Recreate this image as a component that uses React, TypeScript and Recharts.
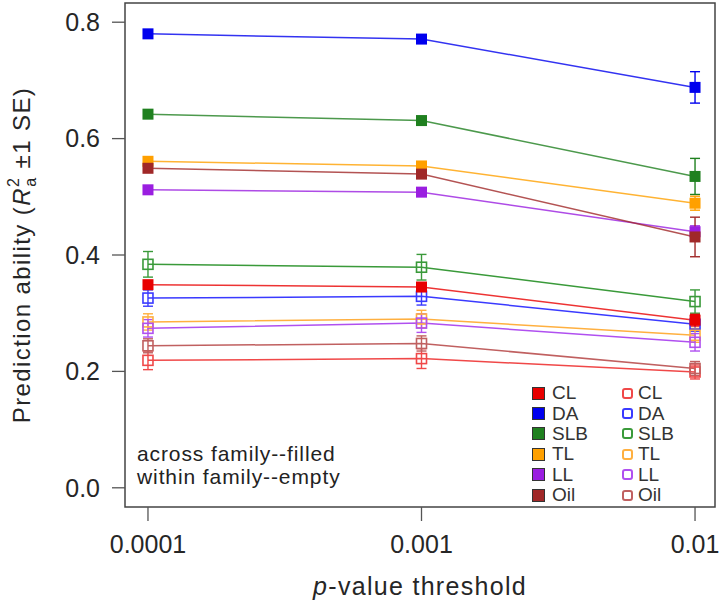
import React from "react";
import {
  LineChart,
  Line,
  XAxis,
  YAxis,
  ErrorBar,
  ReferenceArea,
  Label,
} from "recharts";

const thresholds = ["0.0001", "0.001", "0.01"];
const traits = ["CL", "DA", "SLB", "TL", "LL", "Oil"];

// across family (filled)
const acrossCL = [0.349, 0.345, 0.288];
const acrossDA = [0.78, 0.771, 0.688];
const acrossSLB = [0.642, 0.631, 0.535];
const acrossTL = [0.561, 0.553, 0.489];
const acrossLL = [0.512, 0.508, 0.44];
const acrossOil = [0.549, 0.539, 0.431];

const acrossCLse = [0.006, 0.007, 0.01];
const acrossDAse = [0.004, 0.005, 0.027];
const acrossSLBse = [0.004, 0.004, 0.031];
const acrossTLse = [0.005, 0.005, 0.012];
const acrossLLse = [0.005, 0.005, 0.01];
const acrossOilse = [0.005, 0.006, 0.034];

// within family (empty)
const withinCL = [0.219, 0.222, 0.199];
const withinDA = [0.326, 0.329, 0.281];
const withinSLB = [0.384, 0.379, 0.32];
const withinTL = [0.285, 0.29, 0.262];
const withinLL = [0.274, 0.283, 0.25];
const withinOil = [0.244, 0.248, 0.205];

const withinCLse = [0.016, 0.017, 0.012];
const withinDAse = [0.014, 0.015, 0.012];
const withinSLBse = [0.022, 0.022, 0.02];
const withinTLse = [0.014, 0.015, 0.012];
const withinLLse = [0.015, 0.016, 0.015];
const withinOilse = [0.012, 0.013, 0.012];

const yTicks = [0, 0.2, 0.4, 0.6, 0.8];

const filledColors = ["#e80000", "#0000ee", "#1f801f", "#ffa000", "#9a1ee0", "#a02828"];
const emptyColors = ["#f04848", "#3a3aff", "#3a9a3a", "#ffb040", "#b050f0", "#c06060"];

const acrossVals = [acrossCL, acrossDA, acrossSLB, acrossTL, acrossLL, acrossOil];
const acrossSe = [acrossCLse, acrossDAse, acrossSLBse, acrossTLse, acrossLLse, acrossOilse];
const withinVals = [withinCL, withinDA, withinSLB, withinTL, withinLL, withinOil];
const withinSe = [withinCLse, withinDAse, withinSLBse, withinTLse, withinLLse, withinOilse];

const xDomain: [number, number] = [-0.084, 2.073];
const yDomain: [number, number] = [-0.033, 0.833];

const data = thresholds.map((t, i) => {
  const row: Record<string, number | string> = { x: i, label: t };
  traits.forEach((tr, k) => {
    row[`a_${tr}`] = acrossVals[k][i];
    row[`a_${tr}_se`] = acrossSe[k][i];
    row[`w_${tr}`] = withinVals[k][i];
    row[`w_${tr}_se`] = withinSe[k][i];
  });
  return row;
});

const font = "'Liberation Sans', Arial, Helvetica, sans-serif";
const textColor = "#262626";

const squareDot = (color: string, filled: boolean) => (props: any) => {
  const { cx, cy, index } = props;
  if (cx == null || cy == null) return <g key={index} />;
  const s = filled ? 11 : 10;
  return (
    <rect
      key={index}
      x={cx - s / 2}
      y={cy - s / 2}
      width={s}
      height={s}
      fill={filled ? color : "none"}
      stroke={color}
      strokeWidth={filled ? 0 : 1.6}
    />
  );
};

export default function App() {
  return (
    <div style={{ position: "absolute", left: 0, top: 0, width: 720, height: 605, fontFamily: font }}>
      <LineChart
        width={720}
        height={605}
        data={data}
        margin={{ top: 3, right: 5, left: 0, bottom: 0 }}
      >
        <XAxis
          dataKey="x"
          type="number"
          domain={xDomain}
          allowDataOverflow
          ticks={[0, 1, 2]}
          tickFormatter={(v: number) => thresholds[v] ?? ""}
          axisLine={false}
          tickSize={14}
          tickMargin={14}
          height={98}
          tickLine={{ stroke: "#555", strokeWidth: 1.3 }}
          tick={{ fontSize: 25, fill: textColor, fontFamily: font }}
        >
          <Label
            content={(props: any) => {
              const vb = props.viewBox || {};
              const cx = vb.x + vb.width / 2;
              return (
                <text
                  x={cx}
                  y={595}
                  textAnchor="middle"
                  fontSize={25}
                  letterSpacing={1.3}
                  fill={textColor}
                  fontFamily={font}
                >
                  <tspan fontStyle="italic">p</tspan>-value threshold
                </text>
              );
            }}
          />
        </XAxis>
        <YAxis
          type="number"
          domain={yDomain}
          allowDataOverflow
          ticks={yTicks}
          tickFormatter={(v: number) => v.toFixed(1)}
          axisLine={false}
          width={125}
          tickSize={13}
          tickMargin={12}
          tickLine={{ stroke: "#555", strokeWidth: 1.3 }}
          tick={{ fontSize: 25, fill: textColor, fontFamily: font }}
        >
          <Label
            content={(props: any) => {
              const vb = props.viewBox || {};
              const cy = vb.y + vb.height / 2;
              const cx = 30;
              return (
                <text
                  x={cx}
                  y={cy}
                  textAnchor="middle"
                  fontSize={24}
                  letterSpacing={1.4}
                  fill={textColor}
                  fontFamily={font}
                  transform={`rotate(-90, ${cx}, ${cy})`}
                >
                  Prediction ability (<tspan fontStyle="italic">R</tspan>
                  <tspan fontSize={16} dy={-11}>2</tspan>
                  <tspan fontSize={16} dx={-10} dy={17}>a</tspan>
                  <tspan dy={-6}> ±1 SE)</tspan>
                </text>
              );
            }}
          />
        </YAxis>
        <ReferenceArea
          x1={xDomain[0]}
          x2={xDomain[1]}
          y1={yDomain[0]}
          y2={yDomain[1]}
          fill="none"
          stroke="#444"
          strokeWidth={1.5}
          ifOverflow="visible"
        />
        {traits.map((tr, k) => (
          <Line
            key={`w_${tr}`}
            dataKey={`w_${tr}`}
            stroke={emptyColors[k]}
            strokeWidth={1.5}
            type="linear"
            isAnimationActive={false}
            dot={squareDot(emptyColors[k], false)}
            activeDot={false}
          >
            <ErrorBar dataKey={`w_${tr}_se`} width={5} stroke={emptyColors[k]} strokeWidth={1.4} direction="y" />
          </Line>
        ))}
        {traits.map((tr, k) => (
          <Line
            key={`a_${tr}`}
            dataKey={`a_${tr}`}
            stroke={filledColors[k]}
            strokeOpacity={0.8}
            strokeWidth={1.5}
            type="linear"
            isAnimationActive={false}
            dot={squareDot(filledColors[k], true)}
            activeDot={false}
          >
            <ErrorBar dataKey={`a_${tr}_se`} width={5} stroke={filledColors[k]} strokeWidth={1.4} direction="y" />
          </Line>
        ))}
      </LineChart>

      <div
        style={{
          position: "absolute",
          left: 137,
          top: 442,
          fontSize: 21,
          letterSpacing: 0.9,
          lineHeight: "23px",
          color: "#222",
        }}
      >
        <div>across family--filled</div>
        <div>within family--empty</div>
      </div>

      <div style={{ position: "absolute", left: 532, top: 383, fontSize: 19, color: "#333" }}>
        {traits.map((tr, k) => (
          <div key={tr} style={{ display: "flex", alignItems: "center", height: 20.4 }}>
            <span
              style={{
                display: "inline-block",
                width: 13,
                height: 13,
                background: filledColors[k],
                border: "1.5px solid #333",
                boxSizing: "border-box",
                marginRight: 7,
              }}
            />
            <span style={{ width: 70 }}>{tr}</span>
            <span
              style={{
                display: "inline-block",
                width: 11,
                height: 11,
                border: `2px solid ${emptyColors[k]}`,
                borderRadius: 3,
                boxSizing: "border-box",
                marginRight: 5,
              }}
            />
            <span>{tr}</span>
          </div>
        ))}
      </div>
    </div>
  );
}
